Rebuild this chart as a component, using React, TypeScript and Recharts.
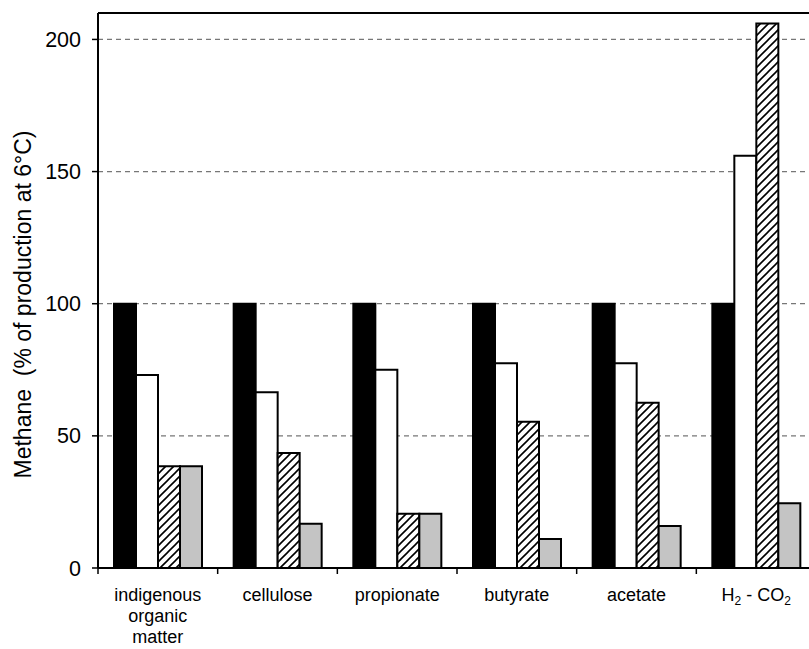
// Methane production relative to 6°C, grouped by substrate
import React from "react";
import {
  BarChart,
  Bar,
  XAxis,
  YAxis,
  CartesianGrid,
  ReferenceLine,
  Label,
} from "recharts";

const categories = [
  "indigenous organic matter",
  "cellulose",
  "propionate",
  "butyrate",
  "acetate",
  "H2 - CO2",
];
const blackValues = [100, 100, 100, 100, 100, 100];
const whiteValues = [73, 66.5, 75, 77.5, 77.5, 156];
const hatchedValues = [38.5, 43.5, 20.5, 55.3, 62.5, 206];
const grayValues = [38.5, 16.7, 20.5, 11, 15.9, 24.5];
const yTicks = [0, 50, 100, 150, 200];

const data = categories.map((name, i) => ({
  name,
  black: blackValues[i],
  white: whiteValues[i],
  hatched: hatchedValues[i],
  gray: grayValues[i],
}));

const FONT = "'Liberation Sans', Arial, sans-serif";

// splits long names into lines and draws "2" as a subscript
function CategoryTick(props: any) {
  const { x, y, payload } = props;
  const half = payload.offset ?? 60;
  const text: string = payload.value;
  const lines = text === "indigenous organic matter" ? ["indigenous", "organic", "matter"] : [text];
  return (
    <g>
      <line x1={x - half} y1={y - 8} x2={x - half} y2={y - 2} stroke="#000" strokeWidth={1.5} />
      <text x={x} y={y} textAnchor="middle" fontFamily={FONT} fontSize={18} fill="#000">
        {lines.map((ln, i) => {
          const parts = ln.split(/(\d)/).filter((p) => p !== "");
          return (
            <tspan key={i} x={x} dy={i === 0 ? 25 : 21}>
              {parts.map((p, j) =>
                /\d/.test(p) ? (
                  <tspan key={j} fontSize={12} baselineShift="-30%">
                    {p}
                  </tspan>
                ) : (
                  <tspan key={j}>{p}</tspan>
                )
              )}
            </tspan>
          );
        })}
      </text>
    </g>
  );
}

function YTitle(props: any) {
  const vb = props.viewBox || { x: 0, y: 0, width: 0, height: 0 };
  const cx = vb.x + 23;
  const cy = vb.y + vb.height / 2 + 14;
  return (
    <text
      x={cx}
      y={cy}
      transform={`rotate(-90, ${cx}, ${cy})`}
      textAnchor="middle"
      dominantBaseline="central"
      fontFamily={FONT}
      fontSize={23}
      fill="#000"
      style={{ whiteSpace: "pre" }}
    >
      {"Methane\u00a0 (% of production at 6°C)"}
    </text>
  );
}

export default function App() {
  return (
    <div
      style={{
        position: "absolute",
        left: 0,
        top: 0,
        width: 809,
        height: 649,
        overflow: "hidden",
        background: "#fff",
      }}
    >
      <svg width={0} height={0} style={{ position: "absolute" }}>
        <defs>
          <pattern id="hatch" patternUnits="userSpaceOnUse" width={8} height={8}>
            <rect width={8} height={8} fill="#fff" />
            <path d="M0,8 L8,0 M-2,2 L2,-2 M6,10 L10,6" stroke="#000" strokeWidth={1.6} />
          </pattern>
        </defs>
      </svg>
      <BarChart
        width={830}
        height={649}
        data={data}
        margin={{ top: 13, right: 14, bottom: 0, left: 0 }}
        barCategoryGap={16}
        barGap={0}
      >
        <CartesianGrid vertical={false} stroke="#777" strokeDasharray="5 4" strokeWidth={1.2} />
        <XAxis
          dataKey="name"
          height={81}
          axisLine={{ stroke: "#000", strokeWidth: 2 }}
          tickLine={false}
          tick={<CategoryTick />}
          interval={0}
        />
        <YAxis
          width={98}
          domain={[0, 210]}
          ticks={yTicks}
          allowDataOverflow
          axisLine={{ stroke: "#000", strokeWidth: 2 }}
          tickLine={{ stroke: "#000", strokeWidth: 1.5 }}
          tickSize={6}
          tickMargin={11}
          tick={{ fontFamily: FONT, fontSize: 21.5, fill: "#000" }}
        >
          <Label content={<YTitle />} />
        </YAxis>
        <ReferenceLine y={210} stroke="#000" strokeWidth={2} />
        <Bar dataKey="black" fill="#000" stroke="#000" strokeWidth={2} isAnimationActive={false} />
        <Bar dataKey="white" fill="#fff" stroke="#000" strokeWidth={2} isAnimationActive={false} />
        <Bar dataKey="hatched" fill="url(#hatch)" stroke="#000" strokeWidth={2} isAnimationActive={false} />
        <Bar dataKey="gray" fill="#c4c4c4" stroke="#000" strokeWidth={2} isAnimationActive={false} />
      </BarChart>
    </div>
  );
}
